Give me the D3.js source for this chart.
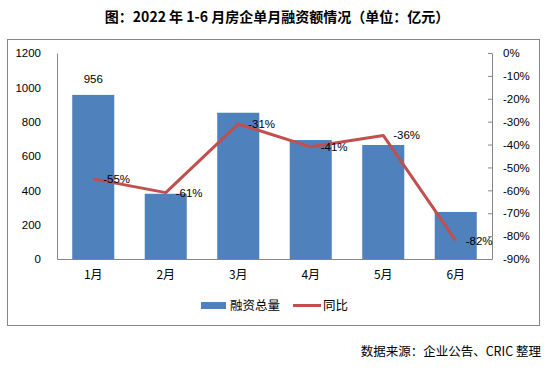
<!DOCTYPE html>
<html>
<head>
<meta charset="utf-8">
<script src="https://cdn.jsdelivr.net/npm/d3@7"></script>
<style>
    body { margin: 0; background: #fff; }
    text { font-family: "Liberation Sans", "Noto Sans CJK SC", sans-serif; }
    .cjk { font-family: "Noto Sans CJK SC", sans-serif; }
</style>
</head>
<body>
<svg id="chart" width="553" height="371"></svg>
<script>
const months = ['1月', '2月', '3月', '4月', '5月', '6月'];
const totals = [956, 380, 852, 693, 664, 274];
const yoy = [-55, -61, -31, -41, -36, -82];
const leftTicks = [0, 200, 400, 600, 800, 1000, 1200];
const rightTicks = [0, -10, -20, -30, -40, -50, -60, -70, -80, -90];

const svg = d3.select('#chart');
const margin = { top: 53, right: 61, bottom: 112, left: 57 };
const width = 553 - margin.left - margin.right;
const height = 371 - margin.top - margin.bottom;
const axisColor = '#868686';

// title
svg.append('text')
    .attr('class', 'cjk')
    .attr('x', 277)
    .attr('y', 22)
    .attr('text-anchor', 'middle')
    .style('font-size', '14px')
    .style('font-weight', 'bold')
    .text('图：2022 年 1-6 月房企单月融资额情况（单位：亿元）');

// outer frame
svg.append('rect')
    .attr('x', 7.5).attr('y', 39.5)
    .attr('width', 532).attr('height', 286)
    .attr('fill', 'none')
    .attr('stroke', axisColor);

const g = svg.append('g')
    .attr('transform', `translate(${margin.left},${margin.top})`);

const x = d3.scaleBand().domain(months).range([0, width]).padding(0);
const y = d3.scaleLinear().domain([0, 1200]).range([height, 0]);
const y2 = d3.scaleLinear().domain([-90, 0]).range([height, 0]);
const barW = x.bandwidth() * 0.58;

// bars
g.selectAll('.bar')
    .data(months)
    .enter()
    .append('rect')
    .attr('class', 'bar')
    .attr('x', d => x(d) + (x.bandwidth() - barW) / 2)
    .attr('y', (d, i) => y(totals[i]))
    .attr('width', barW)
    .attr('height', (d, i) => height - y(totals[i]))
    .attr('fill', '#4F81BD');

// left axis
const left = g.append('g')
    .call(d3.axisLeft(y).tickValues(leftTicks).tickSize(0).tickPadding(16).tickFormat(d3.format('d')));
left.select('.domain').attr('stroke', axisColor);
left.selectAll('text').style('font-size', '11.5px').style('fill', '#000');

// right axis
const right = g.append('g')
    .attr('transform', `translate(${width},0)`)
    .call(d3.axisRight(y2).tickValues(rightTicks).tickSize(0).tickPadding(11)
        .tickFormat(d => d + '%'));
right.select('.domain').attr('stroke', axisColor);
right.selectAll('text').style('font-size', '11.5px').style('fill', '#000').attr('text-anchor', 'start');
right.selectAll('.tick line').attr('x1', -4).attr('x2', 0).attr('stroke', axisColor);

// bottom axis
const bottom = g.append('g')
    .attr('transform', `translate(0,${height})`)
    .call(d3.axisBottom(x).tickSize(0).tickPadding(11));
bottom.select('.domain').attr('stroke', axisColor);
bottom.selectAll('text').attr('class', 'cjk').style('font-size', '12px').style('fill', '#000');

// yoy line
const line = d3.line()
    .x((d, i) => x(months[i]) + x.bandwidth() / 2)
    .y(d => y2(d));

g.append('path')
    .datum(yoy)
    .attr('fill', 'none')
    .attr('stroke', '#C0504D')
    .attr('stroke-width', 3)
    .attr('stroke-linejoin', 'round')
    .attr('d', line);

// data labels
g.append('text')
    .attr('x', x(months[0]) + x.bandwidth() / 2)
    .attr('y', y(totals[0]) - 12)
    .attr('text-anchor', 'middle')
    .style('font-size', '11.5px')
    .text(totals[0]);

g.selectAll('.yoy-label')
    .data(yoy)
    .enter()
    .append('text')
    .attr('class', 'yoy-label')
    .attr('x', (d, i) => x(months[i]) + x.bandwidth() / 2 + 10)
    .attr('y', d => y2(d) + 4)
    .style('font-size', '11.5px')
    .text(d => d + '%');

// legend
const legend = svg.append('g');
legend.append('rect')
    .attr('x', 201).attr('y', 302)
    .attr('width', 25).attr('height', 7)
    .attr('fill', '#4F81BD');
legend.append('text')
    .attr('class', 'cjk')
    .attr('x', 230).attr('y', 310)
    .style('font-size', '12.5px')
    .text('融资总量');
legend.append('line')
    .attr('x1', 293).attr('x2', 321)
    .attr('y1', 305.5).attr('y2', 305.5)
    .attr('stroke', '#C0504D')
    .attr('stroke-width', 3);
legend.append('text')
    .attr('class', 'cjk')
    .attr('x', 323).attr('y', 310)
    .style('font-size', '12.5px')
    .text('同比');

// source note
svg.append('text')
    .attr('class', 'cjk')
    .attr('x', 541)
    .attr('y', 356)
    .attr('text-anchor', 'end')
    .style('font-size', '12.5px')
    .text('数据来源：企业公告、CRIC 整理');
</script>
</body>
</html>
